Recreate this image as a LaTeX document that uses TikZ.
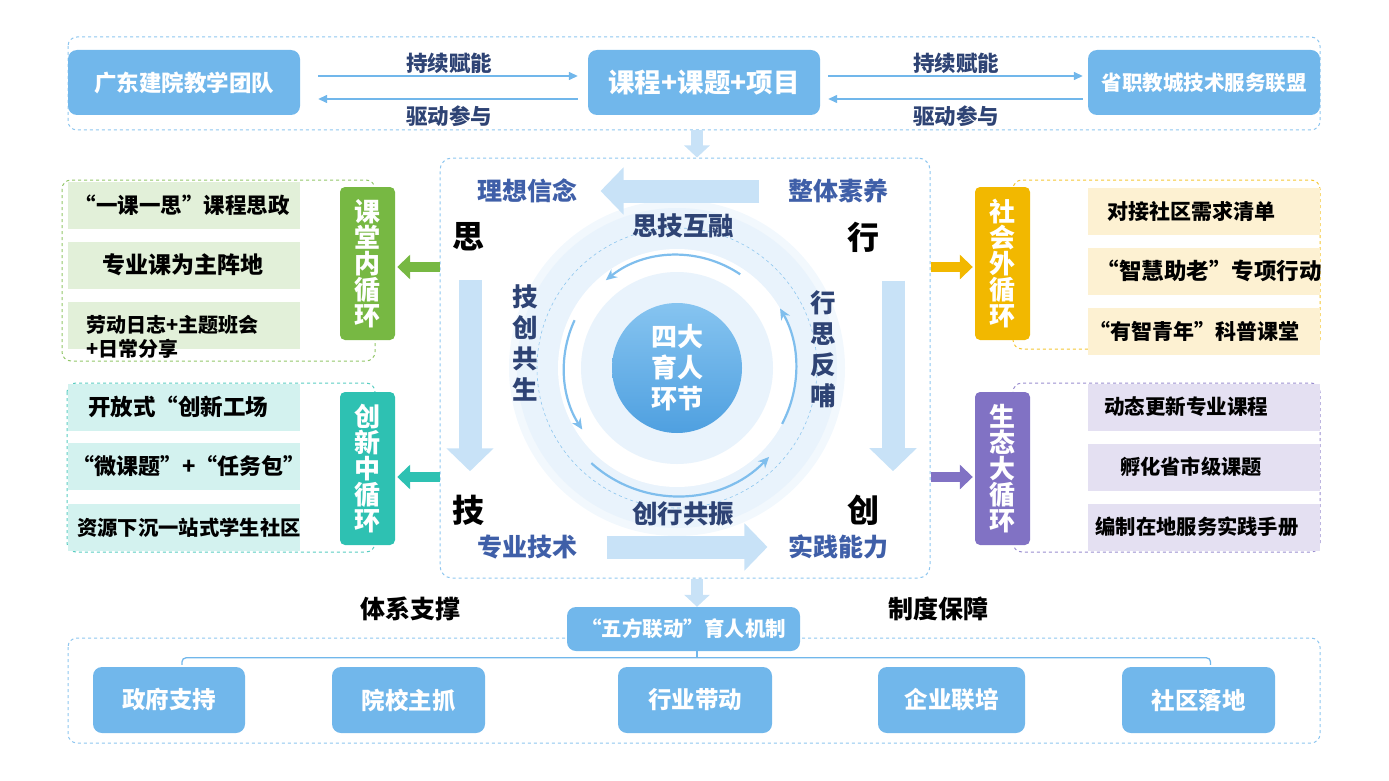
\documentclass[tikz,border=0pt]{standalone}
\usepackage{xcolor}
\usepackage{fontspec}
\setmainfont{Noto Sans CJK SC}
\usepackage{tikz}
\usetikzlibrary{positioning,calc,arrows.meta}

\definecolor{boxblue}{HTML}{71B7EB}
\definecolor{dashblue}{HTML}{8EC6EF}
\definecolor{navy}{HTML}{2E4374}
\definecolor{midblue}{HTML}{3F5FA8}
\definecolor{paleblue}{HTML}{C8E2F7}
\definecolor{glowblue}{HTML}{E9F3FC}
\definecolor{hubtop}{HTML}{86C4F0}
\definecolor{hubbot}{HTML}{4FA0E0}
\definecolor{gngreen}{HTML}{77B843}
\definecolor{lgreen}{HTML}{E2F0D9}
\definecolor{tlteal}{HTML}{2EC1B2}
\definecolor{lteal}{HTML}{D3F2EF}
\definecolor{ylgold}{HTML}{F2B800}
\definecolor{lyellow}{HTML}{FDF1D2}
\definecolor{ppurple}{HTML}{8172C4}
\definecolor{lpurple}{HTML}{E4E0F2}

\newcommand{\fsz}[2]{\fontsize{#1}{#2}\selectfont\bfseries}

\begin{document}
\begin{tikzpicture}[x=1pt,y=-1pt,
	bluebox/.style={fill=boxblue,rounded corners=9pt,text=white,inner sep=0pt,align=center},
	dashframe/.style={draw=#1,dashed,line width=1pt,rounded corners=9pt},
	loopbox/.style={fill=#1,rounded corners=5pt,text=white,minimum width=55pt,minimum height=153pt,inner sep=0pt,align=center,font=\fsz{26}{26}},
	itembox/.style={fill=#1,minimum width=232pt,minimum height=47pt,inner sep=0pt},
	itemtext/.style={font=\fsz{#1}{24},inner sep=0pt},
	linkarrow/.style={draw=boxblue,line width=1.4pt,-{Triangle[length=9pt,width=8pt]}},
	linklabel/.style={text=navy,font=\fsz{21.5}{24}},
	bigarrow/.style={draw=paleblue,line width=23pt,-{Triangle[length=23pt,width=46pt]}},
	smalldown/.style={draw=paleblue,line width=12pt,-{Triangle[length=12pt,width=25pt]}},
	sidearrow/.style={draw=#1,line width=10pt,-{Triangle[length=13pt,width=24pt]}},
	cornerword/.style={font=\fsz{32}{34}},
	aspect/.style={text=midblue,font=\fsz{25}{28}},
	cycleword/.style={text=navy,font=\fsz{25.5}{31},align=center},
	cyclearc/.style={draw=boxblue!90,line width=2.2pt,-{Stealth[length=11pt,width=10pt]}},
	brace/.style={draw=boxblue,line width=1.3pt,rounded corners=4pt}]
	\useasboundingbox (0,0) rectangle (1389,781);

	% top row
	\draw[dashframe=dashblue] (68,37) rectangle (1320,130);
	\node[bluebox,minimum width=232pt,minimum height=65pt,font=\fsz{22.5}{25}] (team) at (184,82.5) {广东建院教学团队};
	\node[bluebox,minimum width=232pt,minimum height=65pt,font=\fsz{26.5}{29}] (course) at (704,82.5) {课程+课题+项目};
	\node[bluebox,minimum width=232pt,minimum height=65pt,font=\fsz{20.5}{23}] (league) at (1204,82.5) {省职教城技术服务联盟};
	\draw[linkarrow] ($(team.east)+(18,-6.5)$) -- ($(course.west)+(-10,-6.5)$);
	\draw[linkarrow] ($(course.west)+(-10,16.5)$) -- ($(team.east)+(18,16.5)$);
	\draw[linkarrow] ($(course.east)+(8,-6.5)$) -- ($(league.west)+(-5,-6.5)$);
	\draw[linkarrow] ($(league.west)+(-5,16.5)$) -- ($(course.east)+(8,16.5)$);
	\node[linklabel] (give1) at (449,63) {持续赋能};
	\node[linklabel] (join1) at (449,116) {驱动参与};
	\node[linklabel] (give2) at (956,63) {持续赋能};
	\node[linklabel] (join2) at (956,116) {驱动参与};

	% core
	\node[draw=dashblue,dashed,line width=1pt,rounded corners=12pt,minimum width=490pt,minimum height=420pt] (core) at (685,368) {};
	\draw[smalldown] ($(course.south)+(-7,15)$) -- ([xshift=12pt]core.north);
	\fill[glowblue!60] (677,368) circle (168pt);
	\fill[glowblue] (677,368) circle (160pt);
	\fill[white] (677,368) circle (119pt);
	\fill[glowblue] (677,368) circle (96pt);
	\draw[dashblue,dashed,line width=0.6pt] (677,368) circle (140pt);
	\node[circle,minimum size=130pt,inner sep=0pt,top color=hubtop,bottom color=hubbot,text=white,align=center,font=\fsz{26}{31}] (hub) at (677,368) {四大\\育人\\环节};

	\draw[cyclearc] ($(hub.center)+(56:113pt)$) arc[start angle=56,end angle=129,radius=113pt];
	\draw[cyclearc] ($(hub.center)+(155:113pt)$) arc[start angle=155,end angle=213,radius=113pt];
	\draw[cyclearc] ($(hub.center)+(228:128pt)$) arc[start angle=228,end angle=316,radius=128pt];
	\draw[cyclearc] ($(hub.center)+(-28:119pt)$) arc[start angle=-28,end angle=30,radius=119pt];

	\node[cycleword] (fuse) at (683,226) {思技互融};
	\node[cycleword] (resonate) at (683,514) {创行共振};
	\node[cycleword] (cogrow) at (525,343) {技\\创\\共\\生};
	\node[cycleword] (feedback) at (823,349) {行\\思\\反\\哺};

	\node[cornerword] (si) at (468,237) {思};
	\node[cornerword] (xing) at (863,237) {行};
	\node[cornerword] (ji) at (468,510) {技};
	\node[cornerword] (chuang) at (863,510) {创};
	\node[aspect] (belief) at (527,191) {理想信念};
	\node[aspect] (quality) at (838,191) {整体素养};
	\node[aspect] (skill) at (527,547) {专业技术};
	\node[aspect] (practice) at (838,547) {实践能力};

	\draw[bigarrow] ([xshift=-25pt]quality.west) -- ([xshift=20pt]belief.east);
	\draw[bigarrow] ([xshift=2pt,yshift=-25pt]si.south) -- ([xshift=2pt,yshift=20pt]ji.north);
	\draw[bigarrow] ([xshift=30pt,yshift=-25pt]xing.south) -- ([xshift=30pt,yshift=20pt]chuang.north);
	\draw[bigarrow] ([xshift=26pt]skill.east) -- ([xshift=-17pt]practice.west);

	% left loops
	\draw[dashframe=gngreen!80] (62,180) rectangle (375,361);
	\node[itembox=lgreen] (g1) at (184,205.5) {};
	\node[itembox=lgreen] (g2) at (184,265) {};
	\node[itembox=lgreen] (g3) at (184,325.5) {};
	\node[itemtext=21.5] (g1txt) at (182,205.5) {“一课一思”课程思政};
	\node[itemtext=23] (g2txt) at (183,265) {专业课为主阵地};
	\node[anchor=west,align=left,font=\fsz{20}{24}] (g3txt) at (83,337) {劳动日志+主题班会\\+日常分享};
	\node[loopbox=gngreen] (classloop) at (367.5,263.5) {课\\堂\\内\\循\\环};
	\draw[sidearrow=gngreen] (core.west |- 0,267) -- ([xshift=2pt,yshift=-3.5pt]classloop.east);

	\draw[dashframe=tlteal!80] (67,383) rectangle (375,552);
	\node[itembox=lteal] (t1) at (184,407) {};
	\node[itembox=lteal] (t2) at (184,466.5) {};
	\node[itembox=lteal] (t3) at (184,527.5) {};
	\node[itemtext=22.5] (t1txt) at (178,407) {开放式“创新工场};
	\node[itemtext=22] (t2txt) at (189,466.5) {“微课题”+“任务包”};
	\node[itemtext=20.3] (t3txt) at (189,527.5) {资源下沉一站式学生社区};
	\node[loopbox=tlteal] (innoloop) at (367.5,468.5) {创\\新\\中\\循\\环};
	\draw[sidearrow=tlteal] (core.west |- 0,477) -- ([xshift=2pt,yshift=-8.5pt]innoloop.east);

	% right loops
	\draw[dashframe=ylgold!80] (1013,180) rectangle (1320,349);
	\node[itembox=lyellow] (y1) at (1204,211) {};
	\node[itembox=lyellow] (y2) at (1204,271) {};
	\node[itembox=lyellow] (y3) at (1204,331) {};
	\node[itemtext=21] (y1txt) at (1191,211) {对接社区需求清单};
	\node[itemtext=22.5] (y2txt) at (1209,271) {“智慧助老”专项行动};
	\node[itemtext=21] (y3txt) at (1194,331) {“有智青年”科普课堂};
	\node[loopbox=ylgold] (socialloop) at (1002.5,263.5) {社\\会\\外\\循\\环};
	\draw[sidearrow=ylgold] (core.east |- 0,267) -- ([xshift=-2pt,yshift=-3.5pt]socialloop.west);

	\draw[dashframe=ppurple!80] (1013,383) rectangle (1320,552);
	\node[itembox=lpurple] (p1) at (1204,407) {};
	\node[itembox=lpurple] (p2) at (1204,467) {};
	\node[itembox=lpurple] (p3) at (1204,527) {};
	\node[itemtext=20.5] (p1txt) at (1186,407) {动态更新专业课程};
	\node[itemtext=20.2] (p2txt) at (1191,467) {孵化省市级课题};
	\node[itemtext=20.3] (p3txt) at (1197,527) {编制在地服务实践手册};
	\node[loopbox=ppurple] (ecoloop) at (1002.5,468.5) {生\\态\\大\\循\\环};
	\draw[sidearrow=ppurple] (core.east |- 0,477) -- ([xshift=-2pt,yshift=-8.5pt]ecoloop.west);

	% bottom row
	\draw[dashframe=dashblue] (68,638) rectangle (1320,743);
	\node[bluebox,minimum width=233pt,minimum height=44pt,font=\fsz{20.5}{23}] (mech) at (683.5,629) {“五方联动”育人机制};
	\draw[smalldown] ([xshift=12pt]core.south) -- ([xshift=13.5pt]mech.north);
	\node[font=\fsz{25}{28}] (system) at (410,609) {体系支撑};
	\node[font=\fsz{25}{28}] (policy) at (938,609) {制度保障};
	\node[bluebox,minimum width=152pt,minimum height=66pt,font=\fsz{23.5}{26}] (gov) at (169,700) {政府支持};
	\node[bluebox,minimum width=153pt,minimum height=66pt,font=\fsz{23.5}{26}] (school) at (408.5,700) {院校主抓};
	\node[bluebox,minimum width=154pt,minimum height=66pt,font=\fsz{23.5}{26}] (industry) at (695,700) {行业带动};
	\node[bluebox,minimum width=147pt,minimum height=66pt,font=\fsz{23.5}{26}] (firm) at (951.5,700) {企业联培};
	\node[bluebox,minimum width=153pt,minimum height=66pt,font=\fsz{23.5}{26}] (community) at (1198.5,700) {社区落地};
	\draw[brace] ([xshift=13pt,yshift=2pt]gov.north) -- ++(0,-7) -| ([xshift=12pt,yshift=2pt]community.north);
	\draw[brace] ([xshift=13.5pt]mech.south) -- ++(0,7);
\end{tikzpicture}
\end{document}
